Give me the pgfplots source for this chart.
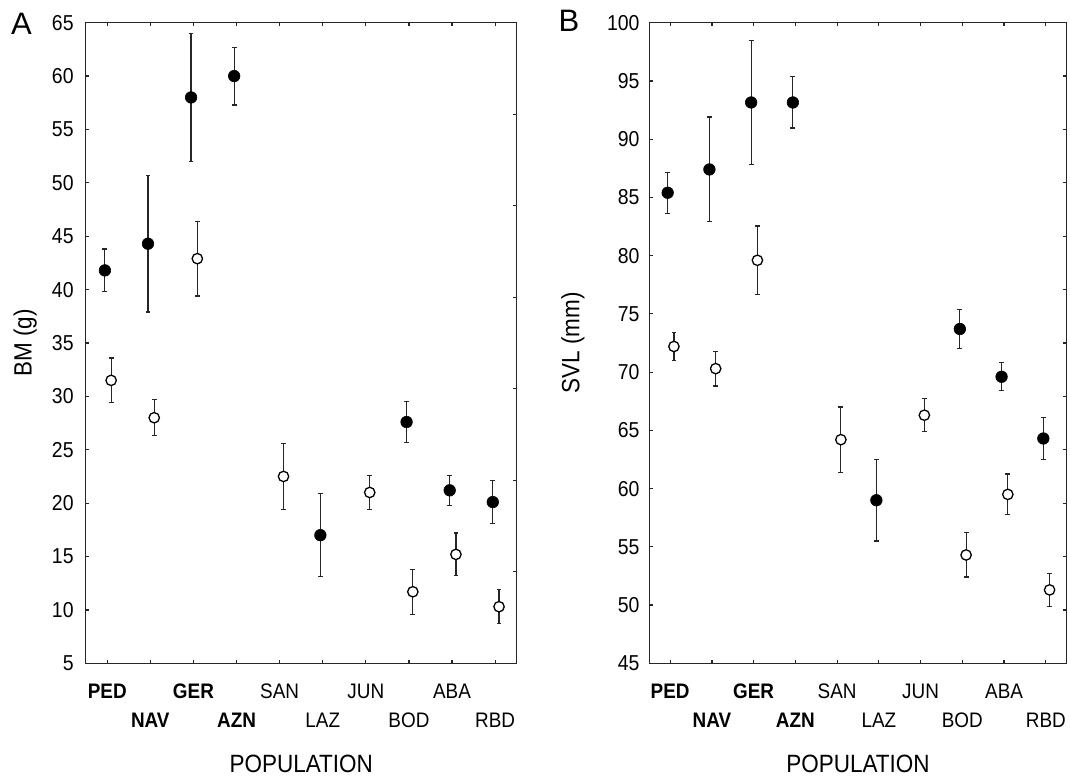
\documentclass[border=0pt]{standalone}
\usepackage{fontspec}
\setmainfont{Liberation Sans}[FakeStretch=0.9]
\setsansfont{Liberation Sans}[FakeStretch=0.9]
\newfontfamily\letterfont{Liberation Sans}
\usepackage{pgfplots}
\usepackage{pgfplotstable}
\pgfplotsset{compat=1.18}

% x = population index, y = mean, e = error
\pgfplotstableread{
x y e
0 41.8 2.0
1 44.3 6.4
2 58.0 6.0
3 60.0 2.7
5 17.0 3.9
7 27.6 1.9
8 21.2 1.4
9 20.1 2.0
}\bmfilled
\pgfplotstableread{
x y e
0 31.5 2.1
1 28.0 1.7
2 42.9 3.5
4 22.5 3.1
6 21.0 1.6
7 11.7 2.1
8 15.2 2.0
9 10.3 1.6
}\bmopen
\pgfplotstableread{
x y e
0 85.4 1.75
1 87.4 4.5
2 93.15 5.3
3 93.15 2.2
5 59.0 3.5
7 73.7 1.65
8 69.6 1.2
9 64.3 1.8
}\svlfilled
\pgfplotstableread{
x y e
0 72.2 1.2
1 70.3 1.5
2 79.6 2.95
4 64.2 2.8
6 66.3 1.4
7 54.3 1.9
8 59.5 1.75
9 51.3 1.4
}\svlopen

\pgfplotsset{
  frame/.style={
    scale only axis, height=320.3pt,
    tick align=inside, major tick length=1.8pt,
    every tick/.style={black!85, line width=0.6pt},
    axis line style={black!85, line width=0.65pt},
  },
  panel/.style={
    frame,
    xmin=-0.5, xmax=9.5,
    ytick pos=left,
    xtick={0,...,9},
    xticklabels={\strut\textbf{PED}, {\strut\\\textbf{NAV}}, \strut\textbf{GER}, {\strut\\\textbf{AZN}},
                 \strut SAN, {\strut\\LAZ}, \strut JUN, {\strut\\BOD}, \strut ABA, {\strut\\RBD}},
    xticklabel style={align=center, anchor=north, inner sep=0pt, yshift=-7.2pt,
                      font=\fontsize{10.5}{14.5}\selectfont},
    yticklabel style={anchor=east, inner sep=0pt, font=\fontsize{10.8}{12}\selectfont},
    /pgf/number format/assume math mode=true,
    label style={font=\fontsize{12.5}{14}\selectfont},
    xlabel={POPULATION},
    xlabel style={at={([yshift=-54.85pt]rel axis cs:0.5,0)}, anchor=base},
  },
  errs/.style={
    error bars/.cd, y dir=both, y explicit,
    error mark=-,
    error bar style={line width=0.6pt, black!85},
    error mark options={rotate=90, mark size=1.2pt, line width=0.6pt, black!85},
  },
  filled/.style={only marks, black, mark=*, mark size=2.9pt,
    mark options={fill=black, draw=black, line width=0.3pt}, errs},
  open/.style={only marks, black, mark=*, mark size=2.6pt,
    mark options={fill=white, draw=black, line width=0.65pt}, errs},
}

\begin{document}
\begin{tikzpicture}
% ---- panel A
\begin{axis}[panel, name=pa, at={(0,0)}, anchor=north west, width=215.5pt,
    ymin=5, ymax=65, ytick={5,10,...,65},
    yticklabel style={xshift=-5.85pt},
    ylabel={BM (g)},
    ylabel style={at={([xshift=-27pt]rel axis cs:0,0.5)}, anchor=base}]
  \addplot+[filled] table[x expr=\thisrow{x}-0.055, y=y, y error=e] {\bmfilled};
  \addplot+[open] table[x expr=\thisrow{x}+0.09, y=y, y error=e] {\bmopen};
\end{axis}
\begin{axis}[frame, at={(0,0)}, anchor=north west, width=215.5pt,
    xmin=0, xmax=1, ymin=0, ymax=7, ytick={1,...,6}, yticklabels={},
    axis x line=none, axis y line*=right]
\end{axis}
% ---- panel B
\begin{axis}[panel, name=pb, at={(281.8pt,0)}, anchor=north west, width=208.7pt,
    ymin=45, ymax=100, ytick={45,50,...,100},
    yticklabel style={xshift=-4.7pt},
    ylabel={SVL (mm)},
    ylabel style={at={([xshift=-35pt]rel axis cs:0,0.5)}, anchor=base}]
  \addplot+[filled] table[x expr=\thisrow{x}-0.06, y=y, y error=e] {\svlfilled};
  \addplot+[open] table[x expr=\thisrow{x}+0.09, y=y, y error=e] {\svlopen};
\end{axis}
\begin{axis}[frame, at={(281.8pt,0)}, anchor=north west, width=208.7pt,
    xmin=0, xmax=1, ymin=0, ymax=12, ytick={1,...,11}, yticklabels={},
    axis x line=none, axis y line*=right]
\end{axis}
% panel letters
\node[font=\letterfont\fontsize{15.5}{17}\selectfont] at ([xshift=-32.1pt, yshift=-0.65pt]pa.north west) {A};
\node[font=\letterfont\fontsize{15.5}{17}\selectfont] at ([xshift=-40.15pt, yshift=0.85pt]pb.north west) {B};
\pgfresetboundingbox
\path (-42.85pt,11.35pt) rectangle (492.15pt,-378.15pt);
\end{tikzpicture}
\end{document}
